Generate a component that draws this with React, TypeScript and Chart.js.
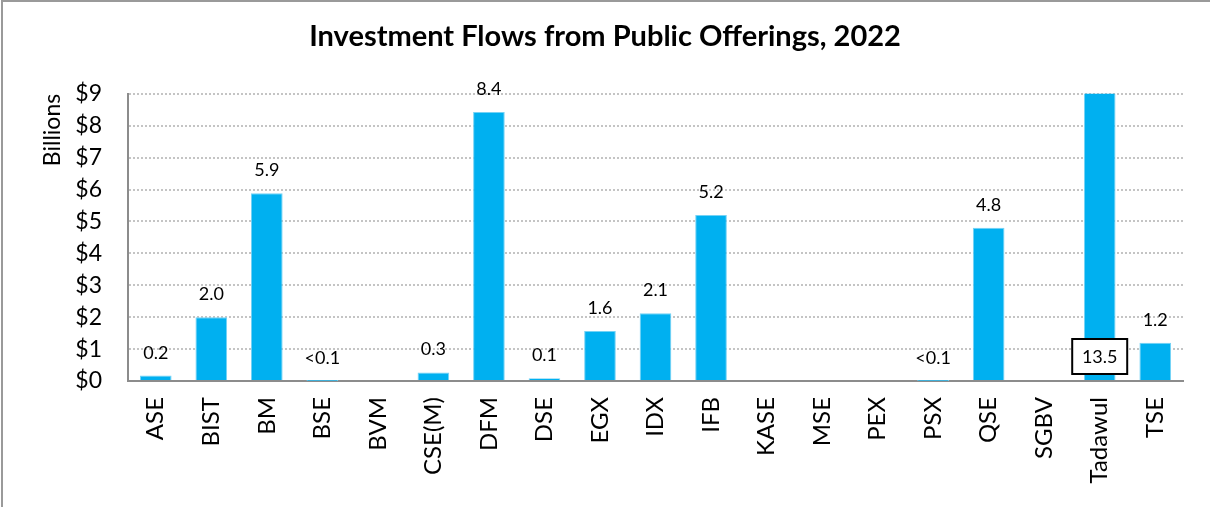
import React, { useEffect, useRef } from "react";
import { Chart, registerables } from "chart.js";

Chart.register(...registerables);

const categories = ["ASE", "BIST", "BM", "BSE", "BVM", "CSE(M)", "DFM", "DSE", "EGX", "IDX", "IFB", "KASE", "MSE", "PEX", "PSX", "QSE", "SGBV", "Tadawul", "TSE"];
const flows = [0.17, 2.0, 5.88, 0.003, 0, 0.27, 8.43, 0.09, 1.57, 2.12, 5.2, 0, 0, 0, 0.003, 4.8, 0, 13.5, 1.2];
const valueLabels = ["0.2", "2.0", "5.9", "<0.1", "", "0.3", "8.4", "0.1", "1.6", "2.1", "5.2", "", "", "", "<0.1", "4.8", "", "13.5", "1.2"];
const yTicks = [0, 1, 2, 3, 4, 5, 6, 7, 8, 9];
const chartTitle = "Investment Flows from Public Offerings, 2022";
const yTitle = "Billions";

const FONT = "Lato, 'DejaVu Sans', sans-serif";

const labelPlugin = {
  id: "valueLabels",
  afterDatasetsDraw(chart: any) {
    const ctx = chart.ctx;
    const meta = chart.getDatasetMeta(0);
    const yScale = chart.scales.y;
    ctx.save();
    ctx.font = `18px ${FONT}`;
    ctx.fillStyle = "#000";
    ctx.textAlign = "center";
    meta.data.forEach((bar: any, i: number) => {
      const text = valueLabels[i];
      if (!text) return;
      const v = flows[i];
      if (v > yScale.max) {
        const w = 55, h = 35;
        const cx = bar.x;
        const bottom = yScale.bottom - 7;
        ctx.fillStyle = "#fff";
        ctx.fillRect(cx - w / 2, bottom - h, w, h);
        ctx.lineWidth = 2;
        ctx.strokeStyle = "#000";
        ctx.strokeRect(cx - w / 2, bottom - h, w, h);
        ctx.fillStyle = "#000";
        ctx.textBaseline = "middle";
        ctx.fillText(text, cx, bottom - h / 2 + 1);
        ctx.textBaseline = "alphabetic";
      } else {
        ctx.textBaseline = "alphabetic";
        ctx.fillText(text, bar.x, bar.y - 17);
      }
    });
    ctx.restore();
  },
};

export default function App() {
  const ref = useRef<HTMLCanvasElement | null>(null);
  useEffect(() => {
    document.body.style.margin = "0";
    if (!ref.current) return;
    const chart = new Chart(ref.current, {
      type: "bar",
      data: {
        labels: categories,
        datasets: [
          {
            data: flows,
            backgroundColor: "#00B0F0",
            borderColor: "#74D2F5",
            borderWidth: 1,
            barPercentage: 0.57,
            categoryPercentage: 1,
          },
        ],
      },
      options: {
        animation: false,
        responsive: false,
        maintainAspectRatio: false,
        layout: { padding: { left: 0, right: 0, top: 0, bottom: 0 } },
        plugins: {
          legend: { display: false },
          tooltip: { enabled: false },
          title: {
            display: true,
            text: chartTitle,
            color: "#000",
            font: { family: FONT, size: 29, weight: "bold" },
            padding: { top: 19, bottom: 40 },
          },
        },
        scales: {
          x: {
            grid: { display: false, drawTicks: false },
            border: { display: true, color: "#8c8c8c", width: 2 },
            ticks: {
              color: "#000",
              font: { family: FONT, size: 24 },
              minRotation: 90,
              maxRotation: 90,
              autoSkip: false,
              padding: 16,
            },
            afterFit(scale: any) {
              scale.height = 126;
            },
          },
          y: {
            min: 0,
            max: 9,
            afterBuildTicks(scale: any) {
              scale.ticks = yTicks.map((v) => ({ value: v }));
            },
            grid: {
              color: (c: any) => (c.tick && c.tick.value === 0 ? "rgba(0,0,0,0)" : "#c4c4c4"),
              lineWidth: 2,
              drawTicks: false,
            },
            border: { display: true, color: "#8c8c8c", width: 2, dash: [2, 2], dashOffset: 0 },
            ticks: {
              color: "#000",
              font: { family: FONT, size: 23 },
              padding: 26,
              callback: (v: any) => "$" + v,
            },
            title: {
              display: true,
              text: yTitle,
              align: "end",
              color: "#000",
              font: { family: FONT, size: 23 },
              padding: { top: 39, bottom: 0 },
            },
            afterFit(scale: any) {
              scale.width = 128;
            },
          },
          yRight: {
            position: "right",
            display: true,
            min: 0,
            max: 9,
            grid: { display: false, drawTicks: false },
            border: { display: false },
            ticks: { display: false },
            afterFit(scale: any) {
              scale.width = 27;
            },
          },
        },
      } as any,
      plugins: [labelPlugin],
    });
    return () => chart.destroy();
  }, []);
  return (
    <div style={{ position: "relative", width: 1210, height: 507 }}>
      <canvas ref={ref} width={1210} height={507} style={{ display: "block" }} />
      <div
        style={{
          position: "absolute",
          left: 1,
          top: 0,
          width: 1209,
          height: 507,
          borderLeft: "2px solid #9a9a9a",
          borderTop: "2px solid #9a9a9a",
          boxSizing: "border-box",
          pointerEvents: "none",
        }}
      />
    </div>
  );
}
